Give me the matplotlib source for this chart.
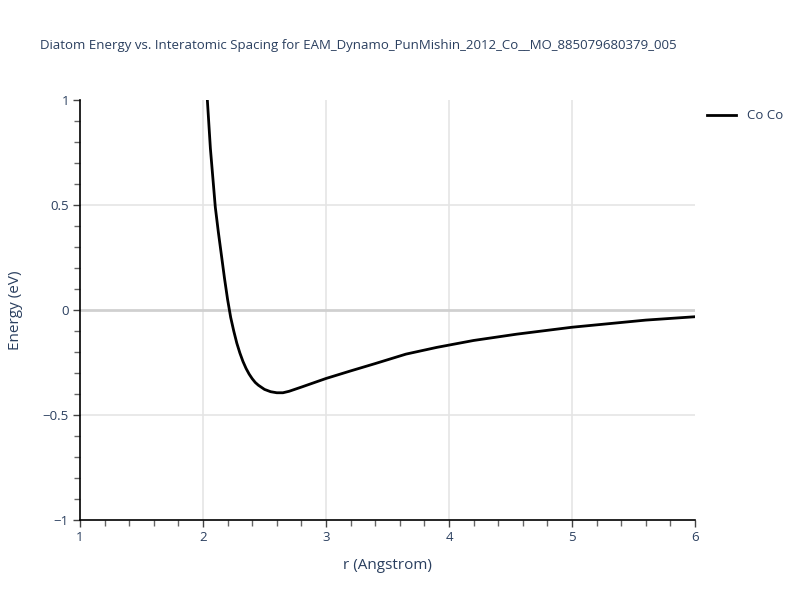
import numpy as np
import matplotlib
matplotlib.use('Agg')
import matplotlib.pyplot as plt
from matplotlib.ticker import MultipleLocator

# datos
r_vals = [2.00, 2.03, 2.06, 2.10, 2.125, 2.15, 2.175, 2.20, 2.225, 2.25, 2.275,
          2.30, 2.325, 2.35, 2.375, 2.40, 2.425, 2.45, 2.50, 2.55, 2.60, 2.65,
          2.70, 2.80, 3.00, 3.20, 3.40, 3.65, 3.90, 4.20, 4.55, 5.00, 5.30,
          5.60, 6.00]
e_vals = [1.35, 1.05, 0.77, 0.49, 0.37, 0.26, 0.15, 0.05, -0.035, -0.10, -0.158,
          -0.205, -0.245, -0.278, -0.305, -0.327, -0.345, -0.358, -0.378, -0.389, -0.394, -0.394,
          -0.387, -0.367, -0.326, -0.29, -0.255, -0.21, -0.178, -0.145, -0.115, -0.082, -0.065,
          -0.048, -0.032]
serie = "Co Co"
titulo = "Diatom Energy vs. Interatomic Spacing for EAM_Dynamo_PunMishin_2012_Co__MO_885079680379_005"

plt.rcParams['font.family'] = ['Open Sans', 'DejaVu Sans']
txt = '#2a3f5f'

fig = plt.figure(figsize=(8, 6), dpi=100)
ax = fig.add_axes([0.1, 0.1333, 0.76875, 0.7])

ax.plot(r_vals, e_vals, color='black', lw=2, label=serie, zorder=3)
ax.set_xlim(1, 6)
ax.set_ylim(-1, 1)

ax.xaxis.set_major_locator(MultipleLocator(1))
ax.xaxis.set_minor_locator(MultipleLocator(0.2))
ax.yaxis.set_minor_locator(MultipleLocator(0.1))
ax.set_yticks([-1, -0.5, 0, 0.5, 1])
ax.set_yticklabels(['\u22121', '\u22120.5', '0', '0.5', '1'])

# rejilla solo en el interior
for xv in [2, 3, 4, 5]:
    ax.axvline(xv, color='#e5e5e5', lw=1.2, zorder=0)
for yv in [-0.5, 0.5]:
    ax.axhline(yv, color='#e5e5e5', lw=1.2, zorder=0)
ax.axhline(0, color='#d0d0d0', lw=2, zorder=1)

for s in ['top', 'right']:
    ax.spines[s].set_visible(False)
for s in ['left', 'bottom']:
    ax.spines[s].set_color('black')
    ax.spines[s].set_linewidth(1.2)

ax.tick_params(which='major', direction='out', length=5, width=1, color='#444444',
               labelsize=9.5, labelcolor=txt, pad=3)
ax.tick_params(which='minor', direction='out', length=4, width=1, color='#666666')

ax.set_xlabel('r (Angstrom)', fontsize=11, color=txt, labelpad=10)
ax.set_ylabel('Energy (eV)', fontsize=11, color=txt, labelpad=14)

fig.text(0.05, 0.925, titulo, fontsize=9.5, color=txt, ha='left', va='center')

ax.legend(loc='upper left', bbox_to_anchor=(1.005, 1.0), frameon=False,
          fontsize=9.5, handlelength=2.2, labelcolor=txt, borderaxespad=0.3)

fig.savefig('out.png', dpi=100)
